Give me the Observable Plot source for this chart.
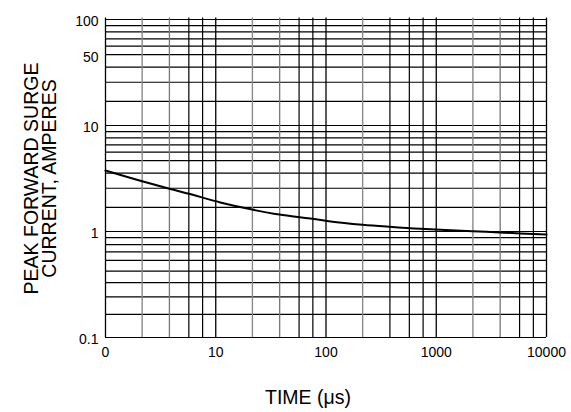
<!DOCTYPE html>
<html><head><meta charset="utf-8">
<script src="https://cdn.jsdelivr.net/npm/d3@7"></script>
<script src="https://cdn.jsdelivr.net/npm/@observablehq/plot@0.6"></script>
<style>body{margin:0;background:#fff}</style>
</head><body><div id="chart"></div>
<script>
// Curve: peak forward surge current vs time
const timeUs = [1, 2.15, 3.8, 5.7, 11, 21.4, 37.8, 72, 110, 214, 375, 717, 2125, 3733, 10000];
const surgeA = [3.76, 2.98, 2.53, 2.27, 1.88, 1.61, 1.445, 1.327, 1.242, 1.157, 1.107, 1.06, 1.007, 0.979, 0.935];

// Grid lines (as drawn on the reference)
const xGridDecades = [1, 10, 100, 1000, 10000];
const xGridBlack = [5.7, 7.6, 57, 76, 380, 570, 760, 5700, 7600];
const xGridMidGray = [3.8, 38, 3800];
const xGridGray = [2.15, 21.5, 215, 2150];
const yGrid = [
  100, 87.7, 76.4, 65.6, 56.2, 46.6, 35.6, 25.6, 16.9,
  10, 8.77, 7.64, 6.56, 5.62, 4.66, 3.56, 2.56, 1.69,
  1, 0.875, 0.752, 0.643, 0.535, 0.423, 0.329, 0.242, 0.165, 0.1
];

// Tick labels
const xTicks = [1, 10, 100, 1000, 10000];
const xTickLabels = ["0", "10", "100", "1000", "10000"];
const yTicks = [0.1, 1, 10, 46.6, 100];
const yTickLabels = ["0.1", "1", "10", "50", "100"];

const xTitle = "TIME (\u03bcs)";
const yTitle = "PEAK FORWARD SURGE\nCURRENT, AMPERES";

const chart = Plot.plot({
  width: 571,
  height: 412,
  marginLeft: 105,
  marginRight: 25,
  marginTop: 19,
  marginBottom: 75,
  style: {fontFamily: "Liberation Sans, Arial, sans-serif", fontSize: "14px", color: "#000", background: "#fff", overflow: "visible"},
  x: {type: "log", domain: [1, 10000], axis: null},
  y: {type: "log", domain: [0.1, 100], axis: null},
  marks: [
    Plot.ruleY(yGrid, {stroke: "#000", strokeWidth: 1.2}),
    Plot.ruleX(xGridGray, {stroke: "#8a8a8a", strokeWidth: 1.4, insetTop: -1.5}),
    Plot.ruleX(xGridMidGray, {stroke: "#777", strokeWidth: 1.3, insetTop: -1.5}),
    Plot.ruleX(xGridBlack, {stroke: "#000", strokeWidth: 1.2, insetTop: -1.5}),
    Plot.ruleX(xGridDecades, {stroke: "#000", strokeWidth: 1.3, insetTop: -1.5}),
    Plot.line(timeUs.map((t, i) => ({t, a: surgeA[i]})), {x: "t", y: "a", curve: "catmull-rom", stroke: "#000", strokeWidth: 2}),
    // x tick labels
    Plot.text(xTicks, {x: d => d, y: () => 0.1, text: (d, i) => xTickLabels[i], dy: 15, fontSize: 14, fill: "#000"}),
    // y tick labels
    Plot.text(yTicks, {x: () => 1, y: d => d, text: (d, i) => yTickLabels[i], textAnchor: "end", dx: -7, dy: 2.5, fontSize: 14, fill: "#000"}),
    // titles
    Plot.text([xTitle], {frameAnchor: "bottom", dx: -18, dy: 66, fontSize: 19.5, fill: "#000"}),
    Plot.text([yTitle], {frameAnchor: "left", textAnchor: "middle", dx: -64, rotate: -90, fontSize: 19.5, lineHeight: 0.93, fill: "#000"})
  ]
});
document.getElementById("chart").appendChild(chart);
</script>
</body></html>
